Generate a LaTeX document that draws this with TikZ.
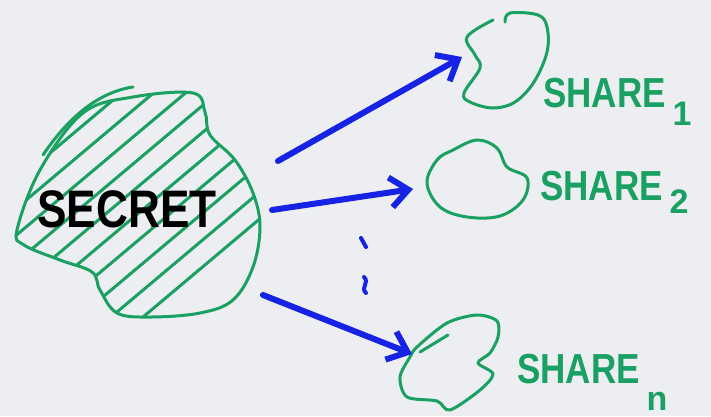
\documentclass[tikz,border=0pt]{standalone}
\usepackage{fontspec}
\setmainfont{Liberation Sans}
\usetikzlibrary{arrows.meta}
\definecolor{marker}{RGB}{26,160,98}
\definecolor{ink}{RGB}{22,34,228}
\definecolor{board}{RGB}{236,238,241}
\tikzset{
  blob/.style={draw=marker, line width=3pt, line cap=round, line join=round},
  hatch/.style={draw=marker, line width=3pt, line cap=round},
  arr/.style={-{Straight Barb[length=18pt, width=30pt]}, draw=ink, line width=6pt, line cap=round},
  sharelbl/.style={text=marker, anchor=base west, inner sep=0pt, font=\fontsize{35}{40}\selectfont\bfseries},
}
\newcommand{\sharetxt}[2]{\scalebox{1}[1.2]{SHARE}\hspace{7pt}\raisebox{#2}{\fontsize{34}{34}\selectfont #1}}

\begin{document}
\begin{tikzpicture}[x=1pt, y=-1pt]
    \fill[board] (0,0) rectangle (711,416);
    \useasboundingbox (0,0) rectangle (711,416);
    % the secret, hatched
    \begin{scope}
      \clip plot[smooth cycle, tension=0.6] coordinates {(17,230) (40,170) (83,113) (133,97) (193,93)
        (205,112) (210,135) (235,160) (253,193) (260,227) (253,267) (233,300) (200,313)
        (150,317) (117,313) (100,290) (92,272) (60,260) (24,245)};
      \foreach \c in {200,232,...,540}
        \draw[hatch] (\c,0) -- ++(-440,370);
    \end{scope}
    \draw[blob] plot[smooth cycle, tension=0.6] coordinates {(17,230) (40,170) (83,113) (133,97) (193,93)
      (205,112) (210,135) (235,160) (253,193) (260,227) (253,267) (233,300) (200,313)
      (150,317) (117,313) (100,290) (92,272) (60,260) (24,245)};
    \draw[hatch] (133,87) .. controls (100,92) and (70,115) .. (43,155);
    \node[font=\fontsize{48}{50}\selectfont\bfseries, anchor=base, inner sep=0pt] (secret) at (127,227)
      {\scalebox{0.92}[1.1]{SECRET}};
    % the shares
    \draw[blob] plot[smooth, tension=0.6] coordinates {(493,20) (467,37) (475,55) (480,68) (464,93)
      (470,102) (493,108) (515,102) (534,82) (547,52) (547,27) (538,15) (510,13) (505,22)};
    \draw[blob] plot[smooth cycle, tension=0.6] coordinates {(453,150) (477,140) (497,148) (507,167)
      (527,178) (523,200) (500,216) (467,217) (440,207) (427,183) (437,160)};
    \draw[blob] plot[smooth cycle, tension=0.5] coordinates {(417,347) (447,323) (477,315) (497,321)
      (498,337) (490,353) (478,363) (493,374) (480,390) (450,410) (437,401) (407,397)
      (400,377) (410,357)};
    \draw[blob] (420,352) -- (448,335);
    \node[sharelbl] (share1) at (543,107) {\sharetxt{1}{-18pt}};
    \node[sharelbl] (share2) at (540,200) {\sharetxt{2}{-13pt}};
    \node[sharelbl] (sharen) at (517,383) {\sharetxt{n}{-27pt}};
    % arrows
    \coordinate (out1) at (278,161);
    \coordinate (out2) at (272,210);
    \coordinate (outn) at (263,295);
    \coordinate (in1) at (462,57);
    \coordinate (in2) at (413,189);
    \coordinate (inn) at (412,354);
    \draw[arr] (out1) -- (in1);
    \draw[arr] (out2) -- (in2);
    \draw[arr] (outn) -- (inn);
    \draw[ink, line width=4pt, line cap=round] (361,238) -- (366,247);
    \draw[ink, line width=4pt, line cap=round] (364,277) .. controls (370,283) and (360,287) .. (366,293);
\end{tikzpicture}
\end{document}
